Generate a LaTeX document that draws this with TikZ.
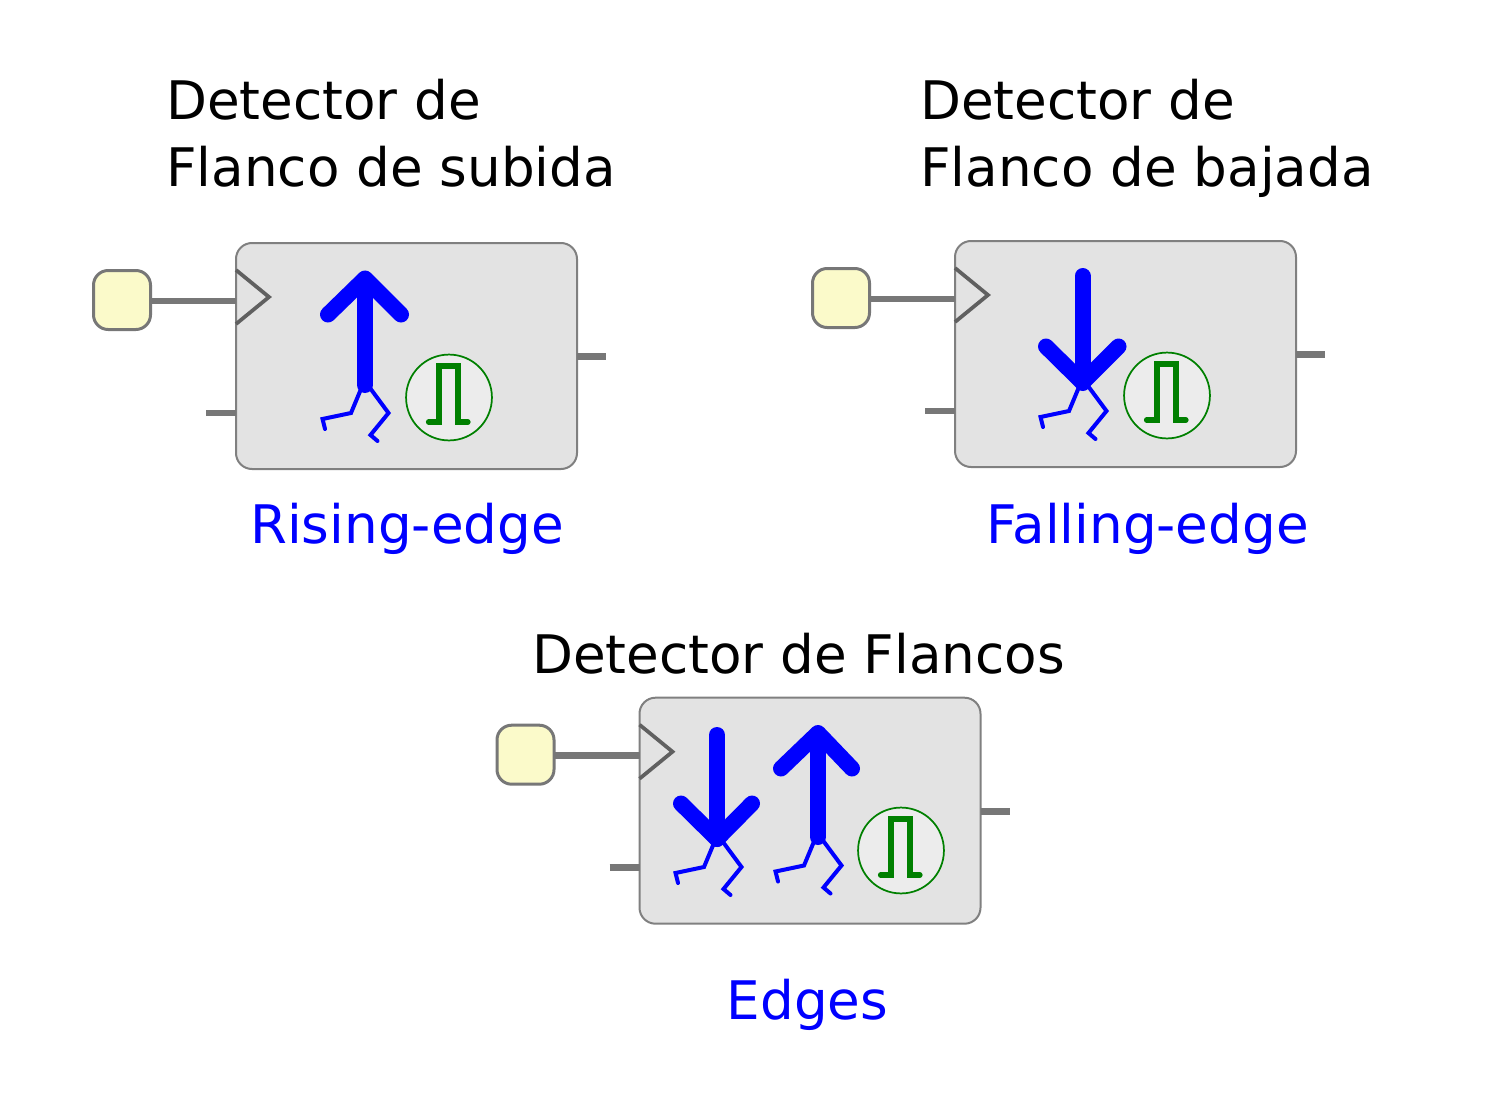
\documentclass[tikz,border=0pt]{standalone}
\usepackage{fontspec}
\setmainfont{DejaVu Sans}
\definecolor{blockfill}{HTML}{E3E3E3}
\definecolor{blockline}{HTML}{808080}
\definecolor{padfill}{HTML}{FBFACA}
\definecolor{padline}{HTML}{777777}
\definecolor{clockline}{HTML}{606060}
\definecolor{circfill}{HTML}{ECECEC}
\definecolor{pulsegreen}{HTML}{008000}
\tikzset{
  x=0.75pt,y=-0.75pt,
  blockbox/.style={draw=blockline,fill=blockfill,line width=1.5pt,rounded corners=12pt,minimum width=255.75pt,minimum height=169.5pt,inner sep=0pt,outer sep=0pt},
  padbox/.style={draw=padline,fill=padfill,line width=2.25pt,rounded corners=11pt,minimum width=42.75pt,minimum height=44.25pt,inner sep=0pt,outer sep=0pt},
  wire/.style={draw=padline,line width=5pt},
  clocktip/.style={draw=clockline,line width=2.8pt,miter limit=10},
  bigarrow/.style={draw=blue,line width=12pt,line cap=round,line join=round},
  legline/.style={draw=blue,line width=3pt,line cap=round,line join=miter},
  pulsecircle/.style={circle,draw=pulsegreen,fill=circfill,line width=1.3pt,minimum size=64.4pt,inner sep=0pt,outer sep=0pt},
  pulseline/.style={draw=pulsegreen,line width=3.9pt,line cap=round,line join=miter},
  titletext/.style={anchor=base west,inner sep=0pt,font=\fontsize{39.85pt}{46pt}\selectfont,text=black},
  nametext/.style={anchor=base west,inner sep=0pt,font=\fontsize{39.85pt}{46pt}\selectfont,text=blue}
}
% #1 prefix, #2 dx, #3 dy
\newcommand{\edgeblock}[3]{%
  \begin{scope}[shift={(#2,#3)}]
    \node[blockbox] (#1box) at (406.5,356) {};
    \node[padbox] (#1pad) at (122,300) {};
    \coordinate (#1in) at (236,301);
    \coordinate (#1set) at (206,413);
    \coordinate (#1setend) at (236,413);
    \coordinate (#1out) at (577,356.7);
    \coordinate (#1outend) at (606,356.7);
    \draw[wire] (#1pad.east |- #1in) -- (#1in);
    \draw[wire] (#1set) -- (#1setend);
    \draw[wire] (#1out) -- (#1outend);
    \draw[clocktip] (236,270) -- (269,297) -- (236,324);
  \end{scope}}
% legs relative to the body
\newcommand{\legsat}[2]{%
  \begin{scope}[shift={(#1,#2)}]
    \draw[legline] (361,389) -- (351,413) -- (322.5,419) -- (325,429);
    \draw[legline] (370,388) -- (388.5,413) -- (370.5,435) -- (377.5,441);
  \end{scope}}
\newcommand{\pulseat}[3]{%
  \begin{scope}[shift={(#2,#3)}]
    \node[pulsecircle] (#1) at (449,397.5) {};
    \draw[pulseline] (428.5,422) -- (439,422) -- (439,366) -- (458,366) -- (458,422) -- (468,422);
  \end{scope}}
\begin{document}
\begin{tikzpicture}
\useasboundingbox (0,0) rectangle (1496,1099);
% block 1
\edgeblock{a}{0}{0}
\legsat{0}{0}
\draw[bigarrow] (365,385) -- (365,279);
\draw[bigarrow] (328,314.5) -- (365,278.5) -- (401,314.5);
\pulseat{ac}{0}{0}
% block 2
\edgeblock{b}{719}{-2}
\legsat{718}{-2}
\draw[bigarrow] (1082.5,276) -- (1082.5,383);
\draw[bigarrow] (1046,346.5) -- (1082.5,382.5) -- (1118.5,346.5);
\pulseat{bc}{718}{-2}
% block 3
\edgeblock{c}{403.5}{454.7}
\legsat{353}{454}
\legsat{453}{452.5}
\draw[bigarrow] (717,735) -- (717,839);
\draw[bigarrow] (681,803.5) -- (717,839) -- (752,803.5);
\draw[bigarrow] (818,837) -- (818,734);
\draw[bigarrow] (781,768.5) -- (818,733) -- (852,768.5);
\pulseat{cc}{452}{453}
% text
\node[titletext] (t1a) at (166,119.5) {Detector de};
\node[titletext] (t1b) at (166,186.5) {Flanco de subida};
\node[titletext] (t2a) at (920,119.5) {Detector de};
\node[titletext] (t2b) at (920,186.5) {Flanco de bajada};
\node[titletext] (t3) at (532,673.5) {Detector de Flancos};
\node[nametext] (n1) at (250,543.5) {Rising-edge};
\node[nametext] (n2) at (986.5,543.5) {Falling-edge};
\node[nametext] (n3) at (726.5,1019.5) {Edges};
\end{tikzpicture}
\end{document}
